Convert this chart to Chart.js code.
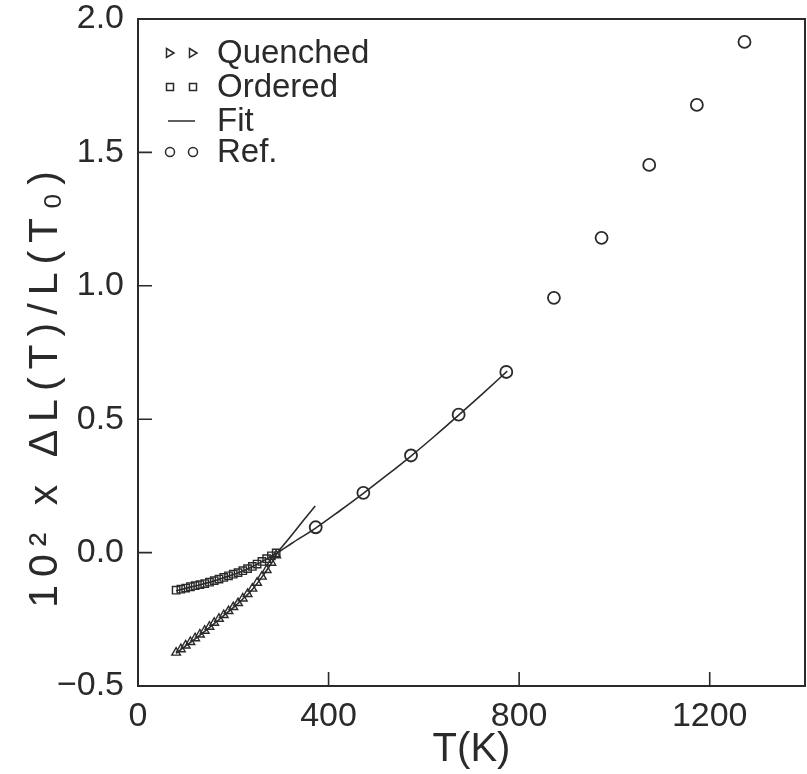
<!DOCTYPE html>
<html><head><meta charset="utf-8">
<script src="https://cdn.jsdelivr.net/npm/chart.js@4/dist/chart.umd.min.js"></script>
<style>html,body{margin:0;padding:0;background:#fff}#wrap{width:807px;height:774px}</style>
</head><body><div id="wrap"><canvas id="c" width="807" height="774"></canvas></div>
<script>
// ---- data ----
const xTickValues = [0, 400, 800, 1200];
const yTickValues = [-0.5, 0, 0.5, 1.0, 1.5, 2.0];

const quenchedT = [80,90,100,110,120,130,140,150,160,170,180,190,200,210,220,230,240,250,260,270,280,290];
const quenchedV = [-0.375,-0.362,-0.348,-0.335,-0.321,-0.307,-0.293,-0.278,-0.263,-0.248,-0.234,-0.219,-0.204,-0.189,-0.172,-0.155,-0.135,-0.113,-0.090,-0.065,-0.038,-0.010];

const orderedT = [80,90,100,110,120,130,140,150,160,170,180,190,200,210,220,230,240,250,260,270,280,290];
const orderedV = [-0.141,-0.137,-0.133,-0.128,-0.124,-0.120,-0.116,-0.111,-0.105,-0.099,-0.093,-0.087,-0.081,-0.075,-0.068,-0.060,-0.052,-0.043,-0.033,-0.023,-0.012,-0.001];

const fitQuenchedT = [80,100,120,140,160,180,200,220,240,260,280,293,310,330,350,372];
const fitQuenchedV = [-0.378,-0.350,-0.323,-0.295,-0.266,-0.236,-0.206,-0.174,-0.138,-0.092,-0.040,0.000,0.038,0.082,0.127,0.175];

const fitOrderedT = [80,100,120,140,160,180,200,220,240,260,280,293,323,373,423,473,523,573,623,673,723,775];
const fitOrderedV = [-0.143,-0.134,-0.125,-0.116,-0.106,-0.094,-0.082,-0.069,-0.053,-0.034,-0.013,0.000,0.035,0.092,0.156,0.222,0.291,0.362,0.437,0.515,0.595,0.680];

const refT = [373,473,573,673,773,873,973,1073,1173,1273];
const refV = [0.095,0.224,0.364,0.517,0.677,0.955,1.180,1.453,1.678,1.914];

const legendLabels = ['Quenched','Ordered','Fit','Ref.'];
const xTitle = 'T(K)';
const yTitle = '10\u00B2 x \u0394L(T)/L(T\u2080)';

// ---- build ----
const pts = (xs, ys) => xs.map((t, i) => ({x: t, y: ys[i]}));
const INK = '#2a2a2a';
const FONT = '"Liberation Sans", Arial, sans-serif';

const frameTicks = {
  id: 'frameTicks',
  afterDraw(chart) {
    const {ctx, chartArea: a, scales: {x, y}} = chart;
    ctx.save();
    ctx.strokeStyle = INK;
    ctx.lineWidth = 2;
    ctx.strokeRect(a.left, a.top, a.right - a.left, a.bottom - a.top);
    ctx.lineWidth = 1.6;
    ctx.beginPath();
    yTickValues.forEach(v => {
      if (v <= y.min || v >= y.max) return;
      const py = y.getPixelForValue(v);
      ctx.moveTo(a.left, py); ctx.lineTo(a.left + 14, py);
    });
    xTickValues.forEach(v => {
      if (v <= x.min || v >= x.max) return;
      const px = x.getPixelForValue(v);
      ctx.moveTo(px, a.bottom); ctx.lineTo(px, a.bottom - 14);
    });
    ctx.stroke();

    // y-axis title (drawn with wide letter spacing like the reference)
    ctx.save();
    ctx.translate(46, (a.top + a.bottom) / 2 + 33);
    ctx.rotate(-Math.PI / 2);
    ctx.font = '41px ' + FONT;
    try { ctx.letterSpacing = '8px'; } catch (e) {}
    ctx.fillStyle = INK;
    ctx.textAlign = 'center';
    ctx.textBaseline = 'middle';
    ctx.fillText(yTitle, 0, 0);
    ctx.restore();

    // legend
    const lx1 = a.left + 32, lx2 = a.left + 55, tx = a.left + 79;
    const rows = [a.top + 34, a.top + 68, a.top + 102, a.top + 133];
    ctx.font = '33px ' + FONT;
    ctx.fillStyle = INK;
    ctx.textBaseline = 'middle';
    ctx.textAlign = 'left';
    ctx.lineWidth = 1.5;
    legendLabels.forEach((lab, i) => {
      const yy = rows[i];
      ctx.fillText(lab, tx, yy + 1);
      ctx.beginPath();
      if (i === 0) {
        [lx1, lx2].forEach(cx => { ctx.moveTo(cx - 3.5, yy - 4.5); ctx.lineTo(cx + 4, yy); ctx.lineTo(cx - 3.5, yy + 4.5); ctx.closePath(); });
      } else if (i === 1) {
        [lx1, lx2].forEach(cx => ctx.rect(cx - 3.5, yy - 3.5, 7, 7));
      } else if (i === 2) {
        ctx.moveTo(lx1 - 2, yy); ctx.lineTo(lx2 + 2, yy);
      } else {
        [lx1, lx2].forEach(cx => { ctx.moveTo(cx + 4.5, yy); ctx.arc(cx, yy, 4.5, 0, Math.PI * 2); });
      }
      ctx.stroke();
    });
    ctx.restore();
  }
};

new Chart(document.getElementById('c'), {
  type: 'scatter',
  data: {
    datasets: [
      {label: 'Fit (quenched)', data: pts(fitQuenchedT, fitQuenchedV), showLine: true, pointRadius: 0, borderColor: INK, borderWidth: 1.6, cubicInterpolationMode: 'monotone'},
      {label: 'Fit', data: pts(fitOrderedT, fitOrderedV), showLine: true, pointRadius: 0, borderColor: INK, borderWidth: 1.6, cubicInterpolationMode: 'monotone'},
      {label: 'Quenched', data: pts(quenchedT, quenchedV), pointStyle: 'triangle', pointRadius: 5, pointBorderWidth: 1.4, borderColor: INK, backgroundColor: 'rgba(255,255,255,0)'},
      {label: 'Ordered', data: pts(orderedT, orderedV), pointStyle: 'rect', pointRadius: 5.2, pointBorderWidth: 1.4, borderColor: INK, backgroundColor: 'rgba(255,255,255,0)'},
      {label: 'Ref.', data: pts(refT, refV), pointStyle: 'circle', pointRadius: 6, pointBorderWidth: 1.8, borderColor: INK, backgroundColor: 'rgba(255,255,255,0)'}
    ]
  },
  options: {
    responsive: false,
    animation: false,
    layout: {autoPadding: false, padding: {top: 19, right: 2, left: 0, bottom: 0}},
    plugins: {legend: {display: false}, tooltip: {enabled: false}},
    scales: {
      x: {
        type: 'linear', min: 0, max: 1400,
        afterBuildTicks: s => { s.ticks = xTickValues.map(v => ({value: v})); },
        afterFit: s => { s.height = 88; s.paddingLeft = 0; s.paddingRight = 0; },
        grid: {display: false, drawTicks: false},
        border: {display: false},
        ticks: {padding: 10, color: INK, font: {family: FONT, size: 34}, callback: v => String(v)},
        title: {display: true, text: xTitle, color: INK, font: {family: FONT, size: 40}, padding: {top: 0, bottom: 0}}
      },
      y: {
        type: 'linear', min: -0.5, max: 2.0,
        afterBuildTicks: s => { s.ticks = yTickValues.map(v => ({value: v})); },
        afterFit: s => { s.width = 138; s.paddingTop = 0; s.paddingBottom = 0; },
        grid: {display: false, drawTicks: false},
        border: {display: false},
        ticks: {padding: 14, color: INK, font: {family: FONT, size: 34}, callback: v => (v < 0 ? '\u2212' + Math.abs(v).toFixed(1) : v.toFixed(1))},
        title: {display: false, text: yTitle}
      }
    }
  },
  plugins: [frameTicks]
});
</script></body></html>
